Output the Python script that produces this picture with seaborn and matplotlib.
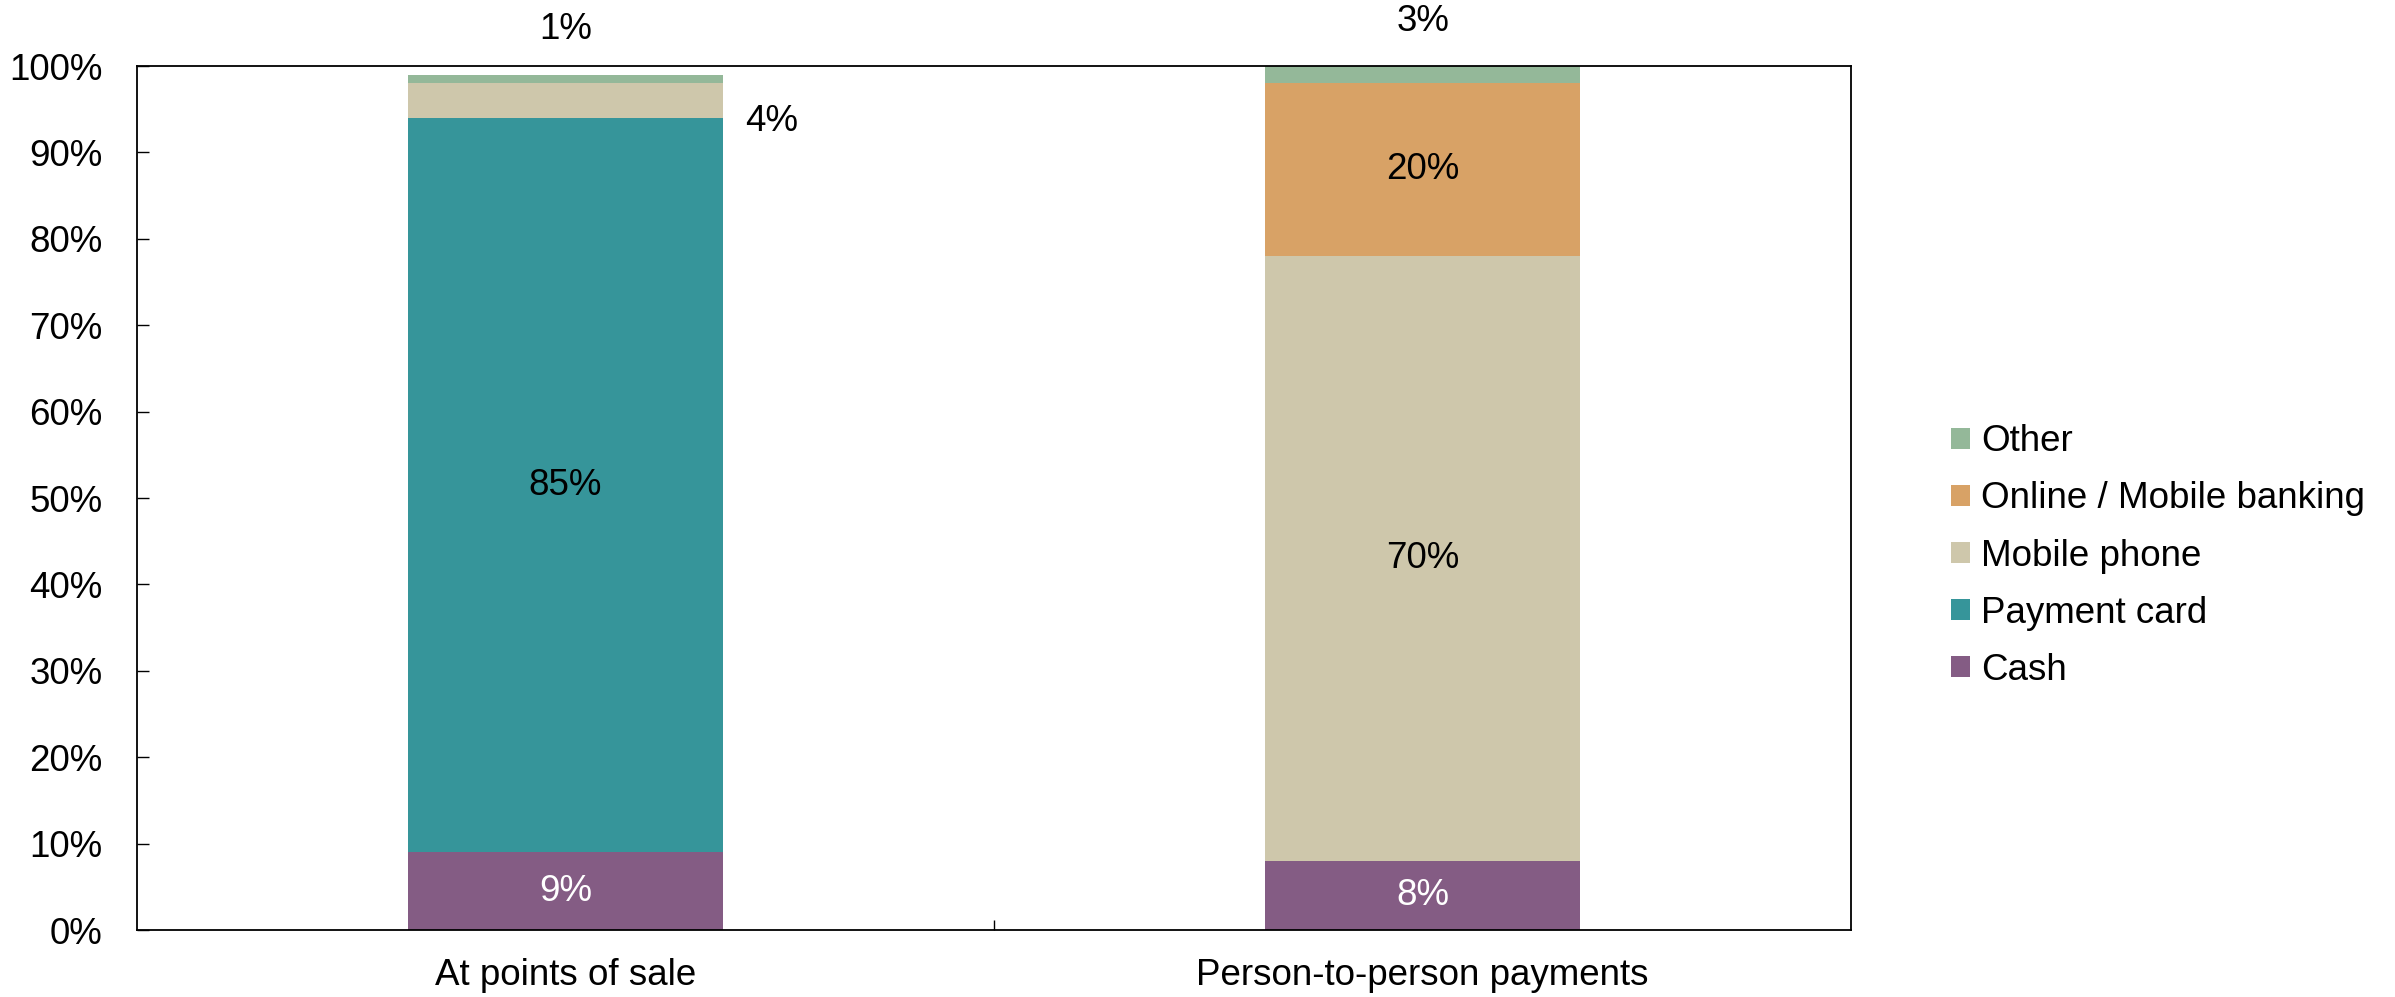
import numpy as np
import pandas as pd
import matplotlib
matplotlib.use("Agg")
import matplotlib.pyplot as plt
import seaborn as sns
from matplotlib.patches import Patch
from matplotlib.ticker import PercentFormatter, FixedLocator

# ---- data ----
categories = ["At points of sale", "Person-to-person payments"]
series = ["Cash", "Payment card", "Mobile phone", "Online / Mobile banking", "Other"]
cash = [9, 8]
payment_card = [85, 0]
mobile_phone = [4, 70]
online_banking = [0, 20]
other = [1, 3]
y_ticks = [0, 10, 20, 30, 40, 50, 60, 70, 80, 90, 100]

colors = {
    "Cash": "#845C84",
    "Payment card": "#36959A",
    "Mobile phone": "#CEC7AB",
    "Online / Mobile banking": "#D8A266",
    "Other": "#94B899",
}

values = {
    "Cash": np.array(cash, dtype=float),
    "Payment card": np.array(payment_card, dtype=float),
    "Mobile phone": np.array(mobile_phone, dtype=float),
    "Online / Mobile banking": np.array(online_banking, dtype=float),
    "Other": np.array(other, dtype=float),
}

sns.set_theme(style="white")
plt.rcParams["font.family"] = ["Liberation Sans", "DejaVu Sans"]
FS = 26.5

fig = plt.figure(figsize=(23.95, 9.97), dpi=100)
ax = fig.add_axes([0.0572, 0.0672, 0.7157, 0.8666])

# cumulative tops
tops = {}
bottoms = {}
run = np.zeros(len(categories))
for name in series:
    bottoms[name] = run.copy()
    run = run + values[name]
    tops[name] = run.copy()

BAR_W = 0.367
for name in reversed(series):
    df = pd.DataFrame({"category": categories, "value": tops[name]})
    sns.barplot(data=df, x="category", y="value", order=categories,
                color=colors[name], saturation=1, width=BAR_W,
                linewidth=0, errorbar=None, ax=ax)

# data labels
for name in series:
    for i, v in enumerate(values[name]):
        if v <= 0:
            continue
        txt = f"{int(v)}%"
        if v >= 5:
            ymid = bottoms[name][i] + v / 2
            col = "white" if name == "Cash" else "black"
            ax.text(i, ymid, txt, ha="center", va="center", fontsize=FS, color=col)
        elif name == "Other":
            ax.text(i, min(tops[name][i], 100) + 5.2, txt, ha="center", va="center",
                    fontsize=FS, color="black", clip_on=False)
        else:
            ax.text(i + BAR_W / 2 + 0.026, bottoms[name][i] + v / 2 - 2.4, txt,
                    ha="left", va="center", fontsize=FS, color="black")

ax.set_xlim(-0.5, 1.5)
ax.set_ylim(0, 100)
ax.set_xlabel("")
ax.set_ylabel("")
ax.set_yticks(y_ticks)
ax.yaxis.set_major_formatter(PercentFormatter(100, decimals=0))
ax.set_xticks(range(len(categories)))
ax.set_xticklabels(categories)
ax.xaxis.set_minor_locator(FixedLocator([0.5]))

ax.tick_params(axis="y", which="major", direction="in", length=8.5, width=1,
               color="black", labelsize=FS, pad=25, left=True, labelcolor="black")
ax.tick_params(axis="x", which="major", length=0, labelsize=FS, pad=20,
               labelcolor="black")
ax.tick_params(axis="x", which="minor", direction="in", length=7, width=1,
               color="black", bottom=True)

for sp in ax.spines.values():
    sp.set_visible(True)
    sp.set_color("black")
    sp.set_linewidth(1.3)

handles = [Patch(facecolor=colors[n], edgecolor="none") for n in reversed(series)]
labels = list(reversed(series))
fig.legend(handles, labels, loc="center left", bbox_to_anchor=(0.8146, 0.4423),
           frameon=False, fontsize=FS, handlelength=0.52, handleheight=0.52,
           handletextpad=0.3, labelspacing=0.6, borderpad=0, borderaxespad=0,
           labelcolor="black")

fig.savefig("out.png", dpi=100)
